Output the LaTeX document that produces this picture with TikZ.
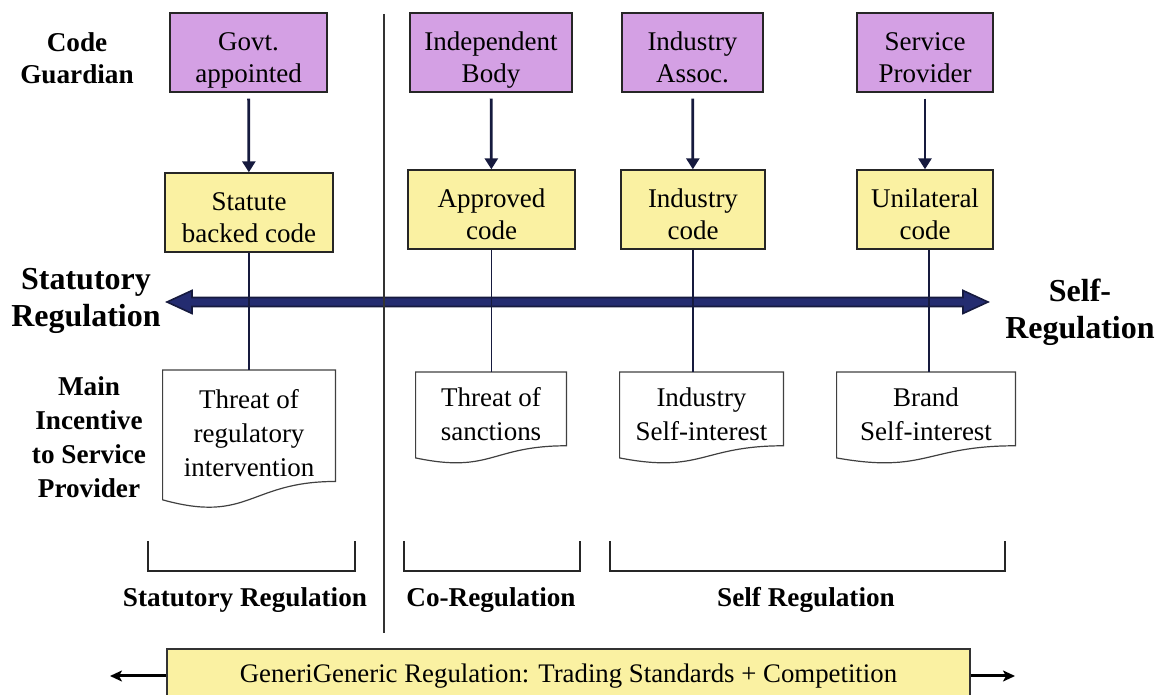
\documentclass[tikz,border=0pt]{standalone}
\usepackage{fontspec}
\setmainfont{Liberation Serif}
\usepackage{xcolor}
\usetikzlibrary{calc, arrows.meta}

\definecolor{guardfill}{RGB}{212,160,228}
\definecolor{codefill}{RGB}{250,241,162}
\definecolor{navyfill}{RGB}{36,44,112}
\definecolor{navyline}{RGB}{22,26,62}

\tikzset{
	guardbox/.style={draw=black!85, fill=guardfill, line width=0.7pt, minimum height=39.5pt, inner sep=0pt, text height=30pt, text depth=0pt, align=center, font=\fontsize{13.5}{16}\selectfont},
	codebox/.style={guardbox, fill=codefill},
	docbox/.style={inner sep=0pt, anchor=north, align=center, font=\fontsize{13.5}{17}\selectfont},
	docline/.style={draw=black!75, line width=0.6pt},
	sidelabel/.style={align=center, font=\bfseries\fontsize{13.6}{16}\selectfont},
	biglabel/.style={align=center, font=\bfseries\fontsize{16}{18.5}\selectfont},
	guardarrow/.style={-{Triangle[length=5.5pt,width=6.5pt]}, draw=navyline, line width=1.4pt, shorten <=3pt},
	stem/.style={draw=navyline, line width=0.7pt},
	bracket/.style={draw=black!85, line width=0.8pt},
	genbox/.style={draw=black!80, fill=codefill, line width=0.7pt, inner sep=0pt, minimum width=401.5pt, minimum height=27pt, font=\fontsize{13.4}{16}\selectfont},
	genarrow/.style={-{Stealth[length=6pt,width=5.5pt,inset=1.5pt]}, draw=black, line width=1.5pt}
}

\begin{document}
\begin{tikzpicture}[x=0.5pt, y=-0.5pt]
				\useasboundingbox (0,0) rectangle (1164,695);
				% side headings
				\node[sidelabel] (guardian) at (77,58) {Code\\Guardian};
				\node[biglabel] (statreg) at (86,301) {Statutory\\Regulation};
				\node[biglabel] (selfreg) at (1080,312) {Self-\\Regulation};
				\node[sidelabel, font=\bfseries\fontsize{13.6}{17}\selectfont] (incentive) at (89,437) {Main\\Incentive\\to Service\\Provider};
				% spectrum arrow
				\coordinate (sl) at (167,302);
				\coordinate (sr) at (988,302);
				\filldraw[fill=navyfill, draw=navyline, line width=0.8pt] (sl) -- ++(25,-11.5) -- ++(0,7) -- ($(sr)+(-25,-4.5)$) -- ++(0,-7) -- (sr) -- ++(-25,11.5) -- ++(0,-7) -- ($(sl)+(25,4.5)$) -- ++(0,7) -- cycle;
				% code guardians
				\node[guardbox, minimum width=78.5pt] (govt) at (248.5,52.5) {Govt.\\appointed};
				\node[guardbox, minimum width=81pt] (indep) at (491,52.5) {Independent\\Body};
				\node[guardbox, minimum width=70.5pt] (assoc) at (692.5,52.5) {Industry\\Assoc.};
				\node[guardbox, minimum width=68pt] (provider) at (925,52.5) {Service\\Provider};
				% codes
				\node[codebox, minimum width=84pt] (statute) at (249,212.5) {Statute\\backed code};
				\node[codebox, minimum width=83.5pt] (approved) at (491.5,209.5) {Approved\\code};
				\node[codebox, minimum width=72pt] (indcode) at (693,209.5) {Industry\\code};
				\node[codebox, minimum width=68pt] (unilat) at (925,209.5) {Unilateral\\code};
				\draw[guardarrow] (govt) -- (statute);
				\draw[guardarrow] (indep) -- (approved);
				\draw[guardarrow] (assoc) -- (indcode);
				\draw[guardarrow] (provider) -- (unilat);
				% incentives
				\node[docbox, minimum width=86pt, minimum height=62.5pt] (dstat) at (249,370) {Threat of\\regulatory\\intervention};
				\node[docbox, minimum width=75pt, minimum height=41.5pt] (dco) at (491,372) {Threat of\\sanctions};
				\node[docbox, minimum width=81.5pt, minimum height=41.5pt] (dind) at (701.5,372) {Industry\\Self-interest};
				\node[docbox, minimum width=89pt, minimum height=41.5pt] (dbrand) at (926,372) {Brand\\Self-interest};
				\foreach \n/\h in {dstat/139, dco/92, dind/92, dbrand/92}
					\draw[docline] (\n.north west) -- (\n.north east) -- ($(\n.north east)+(0,{0.802*\h})$) .. controls ($(\n.north)+(0,{0.802*\h})$) and ($(\n.north)+(0,{1.107*\h})$) .. ($(\n.north west)+(0,{0.934*\h})$) -- cycle;
				\draw[stem] (statute) -- (statute.south |- dstat.north);
				\draw[stem] (approved) -- (approved.south |- dco.north);
				\draw[stem] (indcode) -- (indcode.south |- dind.north);
				\draw[stem] ([xshift=2pt]unilat.south) -- ([xshift=2pt]unilat.south |- dbrand.north);
				% divider
				\coordinate (dtop) at (384,14);
				\coordinate (dbot) at (384,633);
				\draw[draw=black!80, line width=0.9pt] (dtop) -- (dbot);
				% regimes
				\draw[bracket] (148,541) -- (148,571) -- (355,571) -- (355,541);
				\draw[bracket] (404,541) -- (404,571) -- (580,571) -- (580,541);
				\draw[bracket] (610,541) -- (610,571) -- (1005,571) -- (1005,541);
				\node[sidelabel] (lstat) at (245,600) {Statutory Regulation};
				\node[sidelabel] (lco) at (491,600) {Co-Regulation};
				\node[sidelabel] (lself) at (806,600) {Self Regulation};
				% generic regulation
				\node[genbox] (generic) at (568.5,676) {GeneriGeneric Regulation: Trading Standards + Competition};
				\coordinate (gl) at (110,676);
				\coordinate (gr) at (1015,676);
				\draw[genarrow] (generic.west) -- (gl);
				\draw[genarrow] (generic.east) -- (gr);
\end{tikzpicture}
\end{document}
